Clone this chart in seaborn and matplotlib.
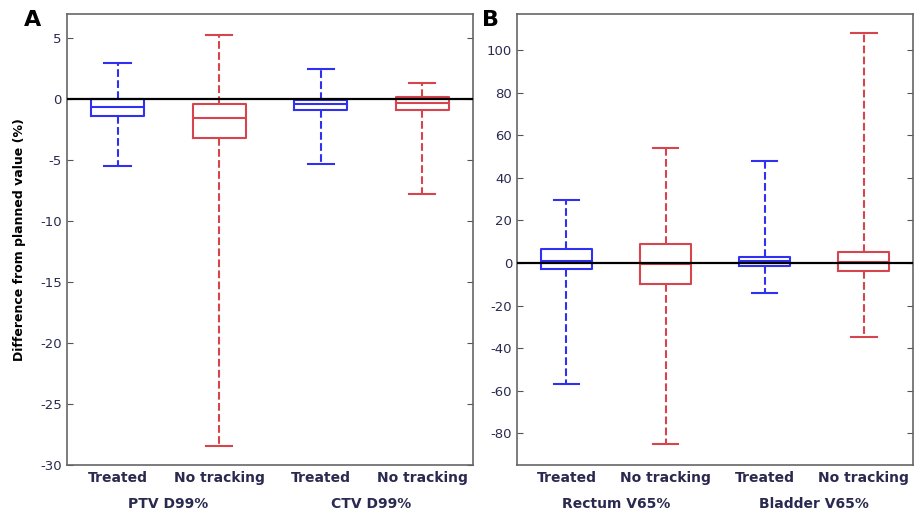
import numpy as np
import pandas as pd
import seaborn as sns
import matplotlib.pyplot as plt

# five-number summaries: [min, Q1, median, Q3, max]
conditions = ["Treated", "No tracking", "Treated", "No tracking"]

# panel A: target coverage
groups_a = ["PTV D99%", "CTV D99%"]
ptv_treated = [-5.5, -1.4, -0.6, 0.0, 3.0]
ptv_notrack = [-28.4, -3.2, -1.5, -0.4, 5.3]
ctv_treated = [-5.3, -0.9, -0.4, -0.1, 2.5]
ctv_notrack = [-7.8, -0.9, -0.3, 0.2, 1.3]

# panel B: organs at risk
groups_b = ["Rectum V65%", "Bladder V65%"]
rectum_treated = [-57, -3, 1, 6.5, 29.5]
rectum_notrack = [-85, -10, -0.5, 9, 54]
bladder_treated = [-14, -1.5, 1, 3, 48]
bladder_notrack = [-35, -4, 0.5, 5, 108]

blue = "#3030f0"
red = "#d6454d"
text_col = "#2a2a50"


def make_frame(groups, boxes):
    rows = []
    for i, vals in enumerate(boxes):
        key = f"{groups[i // 2]}|{conditions[i]}"
        for v in vals:
            rows.append({"key": key, "cond": conditions[i], "value": v})
    return pd.DataFrame(rows)


plt.rcParams["font.family"] = ["DejaVu Sans"]
plt.rcParams["axes.unicode_minus"] = False
fig = plt.figure(figsize=(9.15, 5.14), dpi=100)
ax_a = fig.add_axes([0.073, 0.095, 0.444, 0.878])
ax_b = fig.add_axes([0.565, 0.095, 0.433, 0.878])

panels = [
    (ax_a, groups_a, [ptv_treated, ptv_notrack, ctv_treated, ctv_notrack],
     (-30, 7), np.arange(-30, 6, 5)),
    (ax_b, groups_b, [rectum_treated, rectum_notrack, bladder_treated, bladder_notrack],
     (-95, 117), np.arange(-80, 101, 20)),
]

for ax, groups, boxes, ylim, yticks in panels:
    df = make_frame(groups, boxes)
    order = list(dict.fromkeys(df["key"]))
    sns.boxplot(
        data=df, x="key", y="value", hue="cond", order=order,
        hue_order=["Treated", "No tracking"], palette=[blue, red],
        saturation=1, fill=False, dodge=False, width=0.52, whis=(0, 100),
        linewidth=1.5, legend=False, ax=ax,
        whiskerprops=dict(linestyle="--"),
    )
    ax.axhline(0, color="black", lw=1.6, zorder=5)
    ax.set_xlim(-0.5, 3.5)
    ax.set_ylim(*ylim)
    ax.set_yticks(yticks)
    ax.set_xticks(range(4))
    ax.set_xticklabels(conditions, fontsize=10, fontweight="bold", color=text_col)
    ax.tick_params(axis="x", length=0, pad=4)
    ax.tick_params(axis="y", direction="in", right=True, length=4,
                   labelsize=9.5, labelcolor=text_col, color="#555555")
    ax.set_xlabel("")
    ax.set_ylabel("")
    for s in ax.spines.values():
        s.set_color("#666666")
        s.set_linewidth(1.2)
    for j, g in enumerate(groups):
        ax.text(2 * j + 0.5, -0.085, g, transform=ax.get_xaxis_transform(),
                ha="center", va="center", fontsize=10, fontweight="bold",
                color=text_col)

ax_a.set_ylabel("Difference from planned value (%)", fontsize=9,
                fontweight="bold", color="black", labelpad=10)
fig.text(0.036, 0.962, "A", fontsize=16, fontweight="bold", ha="center", va="center")
fig.text(0.536, 0.962, "B", fontsize=16, fontweight="bold", ha="center", va="center")

fig.savefig("out.png", dpi=100)
